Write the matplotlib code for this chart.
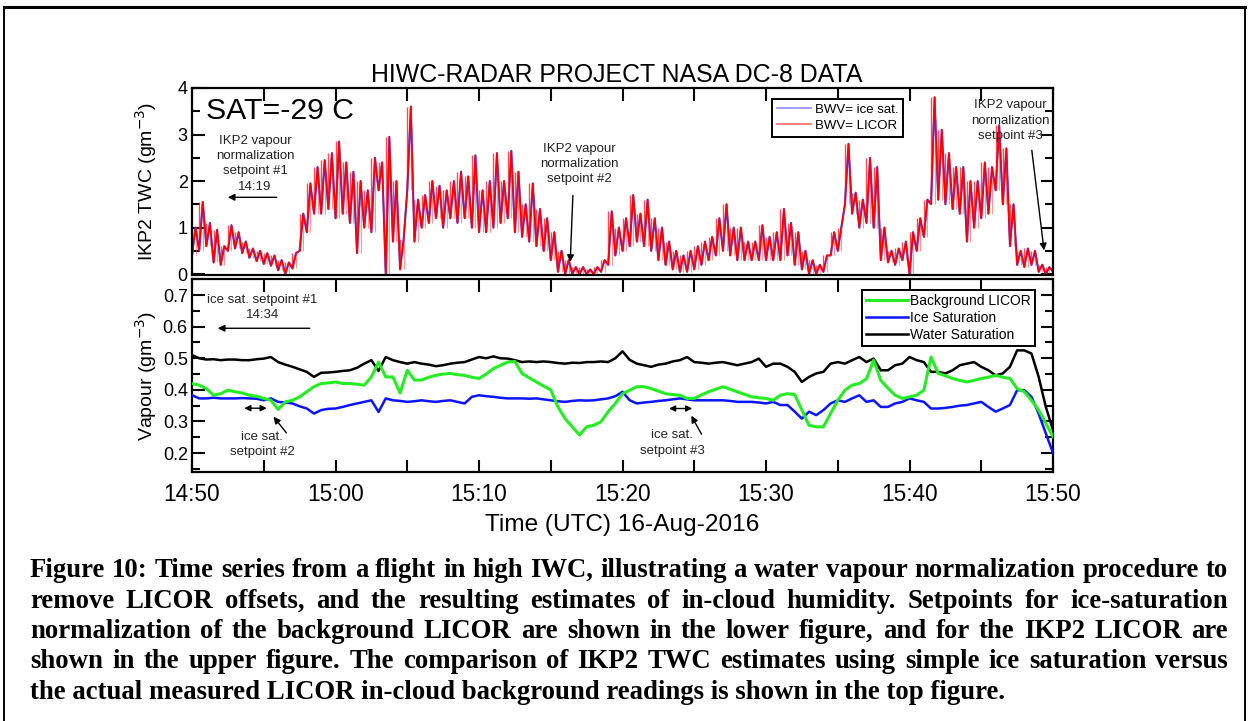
import numpy as np
import matplotlib
matplotlib.use('Agg')
import matplotlib.pyplot as plt
from matplotlib.lines import Line2D
from matplotlib.ticker import MultipleLocator, FuncFormatter

plt.rcParams['font.family'] = ['Liberation Sans', 'DejaVu Sans']

# sample times, minutes after 14:50 UTC, every 30 s
minutes = np.arange(0, 60.5, 0.5)

# IKP2 TWC (g/m3): upper and lower edge of the noisy trace in each 30 s window
twc_hi = [1.0, 1.55, 1.1, 0.95, 0.6, 1.05, 0.9, 0.7, 0.55, 0.5,
          0.45, 0.4, 0.3, 0.25, 0.45, 1.3, 1.95, 2.3, 2.45, 2.6,
          2.85, 2.4, 2.2, 2.0, 1.8, 2.5, 2.4, 2.95, 2.0, 0.75,
          3.6, 1.6, 1.7, 2.0, 1.9, 1.8, 2.0, 2.2, 2.1, 2.55,
          1.8, 2.0, 2.6, 2.0, 2.65, 2.2, 1.5, 1.95, 1.4, 1.2,
          0.9, 0.5, 0.3, 0.15, 0.15, 0.1, 0.15, 0.3, 1.35, 1.0,
          1.2, 1.7, 1.3, 1.6, 1.2, 1.0, 0.7, 0.5, 0.4, 0.5,
          0.6, 0.7, 0.8, 1.2, 1.5, 1.0, 1.0, 0.7, 0.7, 1.05,
          0.8, 0.9, 1.4, 1.1, 0.9, 0.5, 0.3, 0.2, 0.4, 0.9,
          1.0, 2.8, 1.75, 1.6, 2.5, 2.3, 1.0, 0.5, 0.55, 0.7,
          0.9, 1.2, 1.6, 3.8, 3.1, 2.6, 2.3, 2.3, 2.0, 2.0,
          2.4, 2.3, 3.2, 2.7, 1.5, 0.5, 0.55, 0.5, 0.2, 0.15,
          0.1]
twc_lo = [0.4, 0.5, 0.6, 0.25, 0.2, 0.5, 0.55, 0.45, 0.35, 0.28,
          0.22, 0.18, 0.08, 0.0, 0.12, 0.5, 0.9, 1.3, 1.3, 1.4,
          1.2, 1.3, 1.1, 0.45, 1.0, 0.9, 1.8, 0.0, 0.7, 0.1,
          1.8, 0.7, 1.0, 1.1, 1.2, 1.0, 1.2, 1.1, 1.2, 1.0,
          0.9, 0.9, 1.0, 1.1, 1.2, 0.9, 0.8, 0.7, 0.6, 0.5,
          0.3, 0.05, 0.0, 0.0, 0.0, 0.0, 0.0, 0.05, 0.2, 0.4,
          0.5, 0.6, 0.7, 0.6, 0.5, 0.3, 0.2, 0.1, 0.05, 0.05,
          0.1, 0.2, 0.3, 0.4, 0.5, 0.4, 0.3, 0.3, 0.3, 0.3,
          0.3, 0.3, 0.3, 0.4, 0.2, 0.1, 0.0, 0.0, 0.05, 0.4,
          0.5, 1.5, 1.3, 1.0, 1.1, 1.0, 0.3, 0.25, 0.2, 0.3,
          0.0, 0.5, 0.8, 1.5, 1.6, 1.5, 1.4, 1.3, 0.7, 1.0,
          1.2, 1.3, 1.8, 1.5, 0.6, 0.2, 0.15, 0.2, 0.05, 0.0,
          0.05]

# vapour (g/m3)
bg_licor = [0.42, 0.415, 0.404, 0.383, 0.388, 0.399, 0.394, 0.39, 0.383, 0.38,
            0.373, 0.367, 0.338, 0.362, 0.367, 0.378, 0.394, 0.41, 0.42, 0.422,
            0.425, 0.42, 0.42, 0.418, 0.415, 0.441, 0.488, 0.441, 0.441, 0.39,
            0.462, 0.431, 0.431, 0.44, 0.446, 0.45, 0.452, 0.448, 0.446, 0.44,
            0.436, 0.45, 0.467, 0.478, 0.488, 0.49, 0.452, 0.438, 0.425, 0.412,
            0.4, 0.346, 0.309, 0.283, 0.257, 0.283, 0.288, 0.299, 0.331, 0.357,
            0.388, 0.399, 0.41, 0.41, 0.404, 0.396, 0.388, 0.385, 0.383, 0.373,
            0.373, 0.384, 0.394, 0.402, 0.41, 0.402, 0.394, 0.386, 0.378, 0.375,
            0.373, 0.367, 0.383, 0.388, 0.385, 0.336, 0.288, 0.283, 0.283, 0.325,
            0.367, 0.399, 0.415, 0.42, 0.435, 0.494, 0.43, 0.405, 0.383, 0.373,
            0.378, 0.383, 0.399, 0.504, 0.452, 0.445, 0.436, 0.43, 0.425, 0.43,
            0.436, 0.44, 0.446, 0.44, 0.436, 0.404, 0.394, 0.367, 0.336, 0.294,
            0.252]
ice_sat = [0.383, 0.373, 0.373, 0.375, 0.373, 0.373, 0.373, 0.374, 0.373, 0.372,
           0.367, 0.373, 0.362, 0.36, 0.357, 0.348, 0.341, 0.325, 0.336, 0.34,
           0.341, 0.346, 0.352, 0.357, 0.362, 0.367, 0.33, 0.373, 0.367, 0.365,
           0.362, 0.364, 0.367, 0.364, 0.362, 0.365, 0.367, 0.362, 0.357, 0.378,
           0.383, 0.38, 0.378, 0.375, 0.373, 0.373, 0.373, 0.372, 0.373, 0.37,
           0.367, 0.364, 0.362, 0.365, 0.367, 0.366, 0.367, 0.37, 0.373, 0.38,
           0.394, 0.367, 0.357, 0.36, 0.362, 0.365, 0.367, 0.37, 0.373, 0.37,
           0.367, 0.367, 0.367, 0.367, 0.367, 0.365, 0.362, 0.362, 0.362, 0.36,
           0.357, 0.362, 0.352, 0.352, 0.331, 0.309, 0.331, 0.32, 0.336, 0.357,
           0.367, 0.362, 0.373, 0.383, 0.362, 0.367, 0.346, 0.346, 0.357, 0.362,
           0.373, 0.367, 0.362, 0.341, 0.341, 0.343, 0.346, 0.35, 0.352, 0.357,
           0.362, 0.346, 0.331, 0.341, 0.352, 0.399, 0.399, 0.378, 0.325, 0.262,
           0.2]
water_sat = [0.51, 0.5, 0.496, 0.497, 0.494, 0.496, 0.496, 0.494, 0.494, 0.497,
             0.499, 0.504, 0.488, 0.48, 0.473, 0.465, 0.457, 0.441, 0.454, 0.455,
             0.457, 0.46, 0.462, 0.47, 0.483, 0.494, 0.46, 0.504, 0.494, 0.488,
             0.483, 0.488, 0.483, 0.48, 0.475, 0.478, 0.483, 0.486, 0.488, 0.496,
             0.504, 0.5, 0.506, 0.5, 0.499, 0.494, 0.488, 0.49, 0.488, 0.49,
             0.488, 0.485, 0.483, 0.486, 0.485, 0.488, 0.488, 0.49, 0.488, 0.5,
             0.522, 0.495, 0.483, 0.478, 0.473, 0.48, 0.483, 0.49, 0.494, 0.504,
             0.488, 0.486, 0.483, 0.486, 0.488, 0.483, 0.478, 0.483, 0.488, 0.499,
             0.473, 0.483, 0.483, 0.473, 0.457, 0.425, 0.441, 0.452, 0.457, 0.483,
             0.488, 0.483, 0.494, 0.504, 0.488, 0.499, 0.462, 0.462, 0.478, 0.483,
             0.504, 0.494, 0.488, 0.457, 0.457, 0.452, 0.462, 0.478, 0.483, 0.488,
             0.473, 0.462, 0.446, 0.452, 0.473, 0.525, 0.525, 0.515, 0.441, 0.346,
             0.273]

tick_minutes = [0, 10, 20, 30, 40, 50, 60]
tick_labels = ['14:50', '15:00', '15:10', '15:20', '15:30', '15:40', '15:50']

caption = [
    "Figure 10: Time series from a flight in high IWC, illustrating a water vapour normalization procedure to",
    "remove LICOR offsets, and the resulting estimates of in-cloud humidity.  Setpoints for ice-saturation",
    "normalization of the background LICOR are shown in the lower figure, and for the IKP2 LICOR are",
    "shown in the upper figure.  The comparison of IKP2 TWC estimates using simple ice saturation versus",
    "the actual measured LICOR in-cloud background readings is shown in the top figure.",
]

W, H = 1248, 721
fig = plt.figure(figsize=(W / 100, H / 100), dpi=100)

ax1 = fig.add_axes([192 / W, 1 - 275 / H, 861 / W, 187 / H])
ax2 = fig.add_axes([192 / W, 1 - 472 / H, 861 / W, 193 / H])

# the TWC trace alternates low / high edge every quarter minute
t_zig = np.column_stack([minutes, minutes + 0.25]).ravel()
twc_zig = np.column_stack([twc_lo, twc_hi]).ravel()

ax1.plot(t_zig, twc_zig, color='#4040ff', lw=1.5, label='BWV= ice sat.')
ax1.vlines(minutes, twc_lo, twc_hi, color='#ff2a2a', lw=1.0, alpha=0.85)
ax1.vlines(minutes + 0.25, twc_lo, twc_hi, color='#ff4040', lw=0.8, alpha=0.55)
ax1.plot(t_zig, twc_zig, color='#ff0000', lw=1.1, label='BWV= LICOR')

ax2.plot(minutes, water_sat, color='black', lw=1.8, label='Water Saturation', zorder=2)
ax2.plot(minutes, ice_sat, color='#0a14ff', lw=1.8, label='Ice Saturation', zorder=3)
ax2.plot(minutes, bg_licor, color='#22ee22', lw=2.2, label='Background LICOR', zorder=4)

for ax in (ax1, ax2):
    ax.set_xlim(0, 60)
    ax.set_xticks(tick_minutes)
    ax.xaxis.set_minor_locator(MultipleLocator(5))
    for s in ax.spines.values():
        s.set_linewidth(1.6)
    ax.tick_params(which='both', direction='in', width=1.5, left=True, right=True, top=True)
    ax.tick_params(which='major', length=9)
    ax.tick_params(which='minor', length=5.5)
    ax.tick_params(axis='x', which='minor', length=9)
    ax.tick_params(axis='y', labelsize=13, pad=3)

ax1.set_ylim(-0.02, 4.0)
ax1.yaxis.set_major_locator(MultipleLocator(1))
ax1.yaxis.set_minor_locator(MultipleLocator(0.5))
ax1.tick_params(axis='x', which='both', bottom=False, labelbottom=False)
ax1.set_ylabel('IKP2 TWC (gm$^{-3}$)', fontsize=14)
ax1.yaxis.set_label_coords(-0.038, 0.5)

ax2.set_ylim(0.14, 0.751)
ax2.yaxis.set_major_locator(MultipleLocator(0.1))
ax2.yaxis.set_minor_locator(MultipleLocator(0.05))
ax2.yaxis.set_major_formatter(FuncFormatter(lambda v, p: f'{v:.1f}'))
ax2.set_xticklabels(tick_labels)
ax2.tick_params(axis='x', labelsize=16.3, pad=8)
ax2.set_ylabel('Vapour (gm$^{-3}$)', fontsize=14)
ax2.yaxis.set_label_coords(-0.038, 0.5)
ax2.set_xlabel('Time (UTC) 16-Aug-2016', fontsize=17.6)
ax2.xaxis.set_label_coords(0.5, -0.22)

# legends
h1, l1 = ax1.get_legend_handles_labels()
leg1 = ax1.legend(h1, l1, loc='upper left', bbox_to_anchor=(0.674, 0.941), borderaxespad=0,
                  fontsize=9.5, fancybox=False, edgecolor='black', framealpha=1,
                  handlelength=2.6, handletextpad=0.3, labelspacing=0.3, borderpad=0.35)
leg1.get_frame().set_linewidth(1.4)
for ln in leg1.get_lines():
    ln.set_linewidth(1.2)
    ln.set_alpha(0.6)

h2, l2 = ax2.get_legend_handles_labels()
order = [2, 1, 0]
leg2 = ax2.legend([h2[i] for i in order], [l2[i] for i in order], loc='upper left',
                  bbox_to_anchor=(0.778, 0.943), borderaxespad=0, fontsize=10,
                  fancybox=False, edgecolor='black', framealpha=1,
                  handlelength=3.0, handletextpad=0.2, labelspacing=0.2, borderpad=0.3)
leg2.get_frame().set_linewidth(1.4)

# annotations, top panel
ann = dict(fontsize=9.5, color='#222222', ha='center', va='center', linespacing=1.35)
arw = dict(arrowstyle='-|>', color='black', lw=1.0, mutation_scale=10)
ax1.text(0.95, 3.5, 'SAT=-29 C', fontsize=21.8, ha='left', va='center')
ax1.text(4.4, 2.37, 'IKP2 vapour\nnormalization\nsetpoint #1\n14:19', **ann)
ax1.annotate('', xy=(2.3, 1.65), xytext=(6.1, 1.65), arrowprops=arw)
ax1.text(27.0, 2.37, 'IKP2 vapour\nnormalization\nsetpoint #2', **ann)
ax1.annotate('', xy=(26.35, 0.2), xytext=(26.55, 1.75), arrowprops=arw)
ax1.text(57.0, 3.3, 'IKP2 vapour\nnormalization\nsetpoint #3', **ann)
ax1.annotate('', xy=(59.4, 0.45), xytext=(58.5, 2.72), arrowprops=arw)

# annotations, bottom panel
ax2.text(4.9, 0.66, 'ice sat. setpoint #1\n14:34', **ann)
ax2.annotate('', xy=(1.6, 0.595), xytext=(8.4, 0.595), arrowprops=arw)
dbl = dict(arrowstyle='<|-|>', color='black', lw=1.0, mutation_scale=9)
ax2.annotate('', xy=(3.45, 0.342), xytext=(5.4, 0.342), arrowprops=dbl)
ax2.annotate('', xy=(5.56, 0.322), xytext=(6.7, 0.257), arrowprops=arw)
ax2.text(4.9, 0.226, 'ice sat.\nsetpoint #2', **ann)
ax2.annotate('', xy=(33.05, 0.341), xytext=(35.05, 0.341), arrowprops=dbl)
ax2.annotate('', xy=(34.7, 0.326), xytext=(35.6, 0.252), arrowprops=arw)
ax2.text(33.45, 0.232, 'ice sat.\nsetpoint #3', **ann)

fig.text(617 / W, 1 - 75 / H, 'HIWC-RADAR PROJECT NASA DC-8 DATA', fontsize=17.9,
         ha='center', va='center')

# page frame
for xs, ys, lw in [((4, 1245), (7, 7), 2.2), ((4, 4), (7, H), 1.4), ((1245, 1245), (7, H), 1.4)]:
    fig.add_artist(Line2D([x / W for x in xs], [1 - y / H for y in ys],
                          transform=fig.transFigure, color='black', lw=lw))

# justified caption, size chosen so the last line ends where it does in the figure
renderer = fig.canvas.get_renderer()
serif = ['Liberation Serif', 'DejaVu Serif']
x_left, x_right, last_right = 30, 1228, 1172


def line_width(txt, fs):
    t = fig.text(0, 0, txt, fontsize=fs, fontweight='bold', family=serif)
    w = t.get_window_extent(renderer).width
    t.remove()
    return w


fs = 10 * (last_right - x_left) / line_width(caption[-1], 10)
widest = max(line_width(c, 10) for c in caption[:-1])
fs = min(fs, 10 * (x_right - x_left) / widest)

cap_kw = dict(fontsize=fs, fontweight='bold', family=serif, va='baseline', ha='left')
for i, line in enumerate(caption):
    yb = 1 - (577 + i * 30.5) / H
    if i == len(caption) - 1:
        fig.text(x_left / W, yb, line, **cap_kw)
        continue
    words = line.split()
    texts = [fig.text(0, yb, w, **cap_kw) for w in words]
    widths = [t.get_window_extent(renderer).width for t in texts]
    gap = (x_right - x_left - sum(widths)) / (len(words) - 1)
    x = x_left
    for t, w in zip(texts, widths):
        t.set_x(x / W)
        x += w + gap

fig.savefig('out.png', dpi=100)
